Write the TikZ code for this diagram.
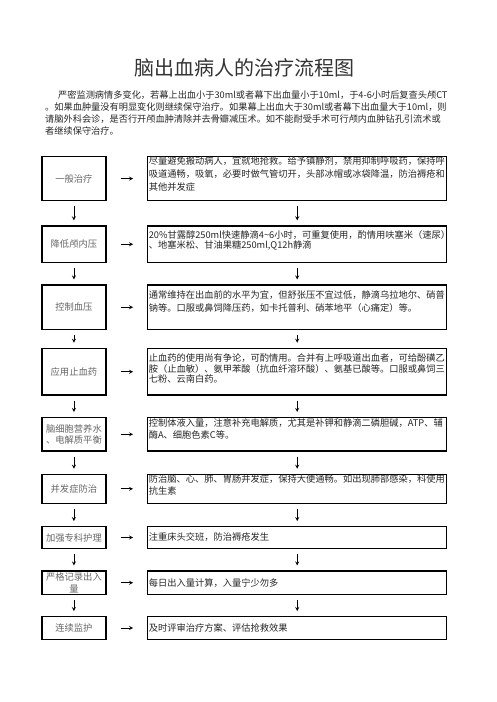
\documentclass[tikz,border=0pt]{standalone}
\usepackage{fontspec}
\setmainfont{Noto Sans CJK SC}
\usetikzlibrary{arrows}

\begin{document}
\begin{tikzpicture}[x=1pt,y=-1pt,
    lbox/.style={draw,line width=1.2pt,minimum width=64pt,minimum height=#1,inner sep=0pt,
      align=center,text=black!60,font=\fontsize{9.3}{11.6}\selectfont},
    rbox/.style={draw,line width=1.2pt,minimum width=299pt,minimum height=#1,inner sep=0pt},
    rtext/.style={anchor=north west,inner sep=0pt,align=left,text=black!85,
      font=\fontsize{9.25}{#1}\selectfont},
    rtext/.default=12,
    harr/.style={->,>=stealth,line width=0.8pt,shorten <=14pt,shorten >=14pt},
    varr/.style={->,>=stealth,line width=0.8pt,shorten <=5pt,shorten >=5pt}]
  \useasboundingbox (0,0) rectangle (496,702);

  % title and introduction
  \node[font=\fontsize{20}{24}\selectfont,text=black!80] (title) at (244,68) {脑出血病人的治疗流程图};
  \node[anchor=north west,inner sep=0pt,align=left,text=black!85,
    font=\fontsize{9.2}{11.8}\selectfont] (intro) at (45,90.8)
    {\hspace{13pt}严密监测病情多变化，若幕上出血小于30ml或者幕下出血量小于10ml，于4-6小时后复查头颅CT\\
     。如果血肿量没有明显变化则继续保守治疗。如果幕上出血大于30ml或者幕下出血量大于10ml，则\\
     请脑外科会诊，是否行开颅血肿清除并去骨瓣减压术。如不能耐受手术可行颅内血肿钻孔引流术或\\
     者继续保守治疗。};

  % left column
  \node[lbox=44.3] (l1) at (73.9,178.6) {一般治疗};
  \node[lbox=36.5] (l2) at (73.9,244.2) {降低颅内压};
  \node[lbox=44.3] (l3) at (73.9,307.2) {控制血压};
  \node[lbox=46.7] (l4) at (73.9,371.7) {应用止血药};
  \node[lbox=33.5] (l5) at (73.9,434.3) {脑细胞营养水\\、电解质平衡};
  \node[lbox=29] (l6) at (73.9,488.8) {并发症防治};
  \node[lbox=21.6] (l7) at (73.9,537.5) {加强专科护理};
  \node[lbox=23.3] (l8) at (73.9,582.7) {严格记录出入\\量};
  \node[lbox=22.6] (l9) at (73.9,628) {连续监护};

  % right column
  \node[rbox=44.3] (r1) at (297.2,178.6) {};
  \node[rbox=36.5] (r2) at (297.2,244.2) {};
  \node[rbox=44.3] (r3) at (297.2,307.2) {};
  \node[rbox=46.7] (r4) at (297.2,371.7) {};
  \node[rbox=33.5] (r5) at (297.2,434.3) {};
  \node[rbox=29] (r6) at (297.2,488.8) {};
  \node[rbox=21.6] (r7) at (297.2,537.5) {};
  \node[rbox=23.3] (r8) at (297.2,582.7) {};
  \node[rbox=22.6] (r9) at (297.2,628) {};

  % texts of the right column
  \node[rtext=13.3] (t1) at ([xshift=1.5pt,yshift=-0.5pt]r1.north west)
    {尽量避免搬动病人，宜就地抢救。给予镇静剂，禁用抑制呼吸药，保持呼\\
     吸道通畅，吸氧，必要时做气管切开，头部冰帽或冰袋降温，防治褥疮和\\
     其他并发症};
  \node[rtext=10.5] (t2) at ([xshift=1.5pt,yshift=-4.8pt]r2.north west)
    {20\%甘露醇250ml快速静滴4\textasciitilde6小时，可重复使用，酌情用呋塞米（速尿）\\
     、地塞米松、甘油果糖250ml,Q12h静滴};
  \node[rtext=13.3] (t3) at ([xshift=1.5pt,yshift=-5.8pt]r3.north west)
    {通常维持在出血前的水平为宜，但舒张压不宜过低，静滴乌拉地尔、硝普\\
     钠等。口服或鼻饲降压药，如卡托普利、硝苯地平（心痛定）等。};
  \node[rtext=10.5] (t4) at ([xshift=1.5pt,yshift=-6.2pt]r4.north west)
    {止血药的使用尚有争论，可酌情用。合并有上呼吸道出血者，可给酚磺乙\\
     胺（止血敏）、氨甲苯酸（抗血纤溶环酸）、氨基已酸等。口服或鼻饲三\\
     七粉、云南白药。};
  \node[rtext=11.7] (t5) at ([xshift=1.5pt,yshift=-1.8pt]r5.north west)
    {控制体液入量，注意补充电解质，尤其是补钾和静滴二磷胆碱，ATP、辅\\
     酶A、细胞色素C等。};
  \node[rtext=12.3] (t6) at ([xshift=1.5pt,yshift=-0.5pt]r6.north west)
    {防治脑、心、肺、胃肠并发症，保持大便通畅。如出现肺部感染，科使用\\
     抗生素};
  \node[rtext,anchor=west] (t7) at ([xshift=1.5pt]r7.west) {注重床头交班，防治褥疮发生};
  \node[rtext,anchor=west] (t8) at ([xshift=1.5pt]r8.west) {每日出入量计算，入量宁少勿多};
  \node[rtext,anchor=west] (t9) at ([xshift=1.5pt]r9.west) {及时评审治疗方案、评估抢救效果};

  % arrows across
  \draw[harr] (l1) -- (r1);
  \draw[harr] (l2) -- (r2);
  \draw[harr] (l3) -- (r3);
  \draw[harr] (l4) -- (r4);
  \draw[harr] (l5) -- (r5);
  \draw[harr] (l6) -- (r6);
  \draw[harr] (l7) -- (r7);
  \draw[harr] (l8) -- (r8);
  \draw[harr] (l9) -- (r9);

  % arrows down
  \draw[varr] (l1) -- (l2);
  \draw[varr] (l2) -- (l3);
  \draw[varr] (l3) -- (l4);
  \draw[varr] (l4) -- (l5);
  \draw[varr] (l5) -- (l6);
  \draw[varr] (l6) -- (l7);
  \draw[varr] (l7) -- (l8);
  \draw[varr] (l8) -- (l9);
  \draw[varr] (r1) -- (r2);
  \draw[varr] (r2) -- (r3);
  \draw[varr] (r3) -- (r4);
  \draw[varr] (r4) -- (r5);
  \draw[varr] (r5) -- (r6);
  \draw[varr] (r6) -- (r7);
  \draw[varr] (r7) -- (r8);
  \draw[varr] (r8) -- (r9);
\end{tikzpicture}
\end{document}
